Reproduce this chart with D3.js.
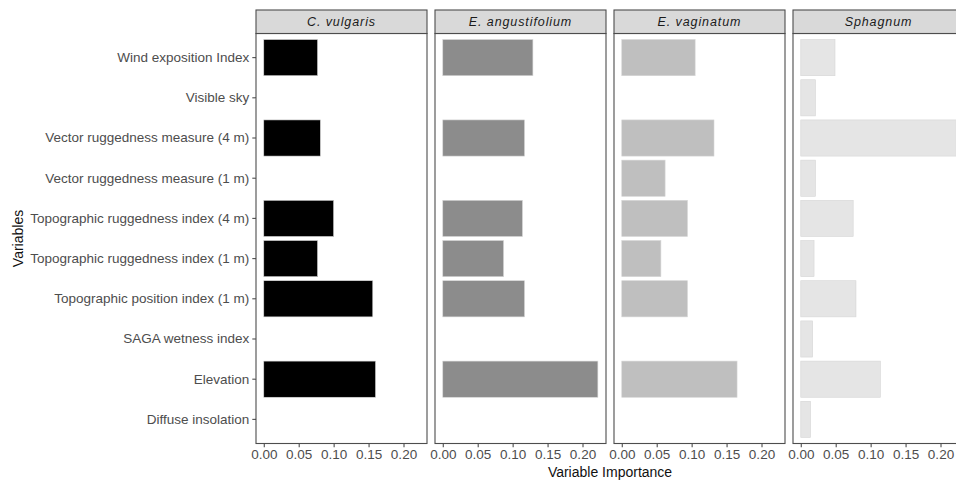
<!DOCTYPE html>
<html>
<head>
<meta charset="utf-8">
<script src="https://cdn.jsdelivr.net/npm/d3@7"></script>
<style>
  html, body { margin: 0; padding: 0; background: #fff; }
  svg { display: block; font-family: "Liberation Sans", Arial, sans-serif; }
</style>
</head>
<body>
<svg id="chart" width="956" height="481"></svg>
<script>
// Predictor variables, listed top to bottom
const variables = [
  "Wind exposition Index",
  "Visible sky",
  "Vector ruggedness measure (4 m)",
  "Vector ruggedness measure (1 m)",
  "Topographic ruggedness index (4 m)",
  "Topographic ruggedness index (1 m)",
  "Topographic position index (1 m)",
  "SAGA wetness index",
  "Elevation",
  "Diffuse insolation"
];

// Species (facets)
const species = ["C. vulgaris", "E. angustifolium", "E. vaginatum", "Sphagnum"];
const speciesFill = ["#000000", "#8c8c8c", "#bfbfbf", "#e5e5e5"];

// Variable importance per species, in the order of `variables` (null = not selected)
const cVulgaris       = [0.077, null, 0.081, null,  0.100, 0.077, 0.156, null,  0.160, null];
const eAngustifolium  = [0.129, null, 0.117, null,  0.114, 0.087, 0.117, null,  0.222, null];
const eVaginatum      = [0.105, null, 0.132, 0.062, 0.094, 0.056, 0.094, null,  0.165, null];
const sphagnum        = [0.049, 0.021, 0.2225, 0.021, 0.075, 0.019, 0.079, 0.017, 0.114, 0.014];

const seriesValues = [cVulgaris, eAngustifolium, eVaginatum, sphagnum];
const xTicks = [0, 0.05, 0.10, 0.15, 0.20];

const svg = d3.select("#chart");

const panelLeft = 256, panelStep = 179, panelW = 171;
const stripTop = 10, stripH = 23.5;
const panelTop = stripTop + stripH, panelBottom = 443.5;
const borderCol = "#4d4d4d", textCol = "#4d4d4d";
const labelSize = 13.5;

// Shared x scale (5% expansion around [0, max])
const maxVal = d3.max(seriesValues.flat().filter(v => v != null));
const x = d3.scaleLinear()
  .domain([-0.05 * maxVal, 1.05 * maxVal])
  .range([0, panelW]);

// Discrete y scale: 0.6-step margin to the first/last centre, bar width 0.9 step
const y = d3.scaleBand()
  .domain(variables)
  .range([panelTop, panelBottom])
  .paddingInner(0.1)
  .paddingOuter(0.15);

species.forEach((sp, i) => {
  const x0 = panelLeft + i * panelStep;
  const g = svg.append("g").attr("transform", `translate(${x0},0)`);

  // panel background
  g.append("rect")
    .attr("x", 0).attr("y", panelTop)
    .attr("width", panelW).attr("height", panelBottom - panelTop)
    .attr("fill", "#fff");

  // bars
  const rows = variables.map((v, j) => ({ v, val: seriesValues[i][j] }))
    .filter(d => d.val != null);
  g.selectAll("rect.bar").data(rows).enter().append("rect")
    .attr("class", "bar")
    .attr("x", x(0))
    .attr("y", d => y(d.v))
    .attr("width", d => x(d.val) - x(0))
    .attr("height", y.bandwidth())
    .attr("fill", speciesFill[i])
    .attr("stroke", "#d6d6d6")
    .attr("stroke-width", 0.6);

  // panel border
  g.append("rect")
    .attr("x", 0).attr("y", panelTop)
    .attr("width", panelW).attr("height", panelBottom - panelTop)
    .attr("fill", "none").attr("stroke", borderCol).attr("stroke-width", 1.1);

  // strip
  g.append("rect")
    .attr("x", 0).attr("y", stripTop)
    .attr("width", panelW).attr("height", stripH)
    .attr("fill", "#d9d9d9").attr("stroke", borderCol).attr("stroke-width", 1.1);
  g.append("text")
    .attr("x", panelW / 2).attr("y", stripTop + stripH / 2)
    .attr("dy", "0.35em")
    .attr("text-anchor", "middle")
    .attr("font-size", 12.5).attr("font-style", "italic")
    .attr("letter-spacing", "0.9px")
    .attr("fill", "#1a1a1a")
    .text(sp);

  // x axis
  const xAxis = d3.axisBottom(x).tickValues(xTicks)
    .tickFormat(d3.format(".2f")).tickSize(3.7).tickPadding(2.5);
  const ax = g.append("g").attr("transform", `translate(0,${panelBottom})`).call(xAxis);
  ax.select(".domain").remove();
  ax.selectAll(".tick line").attr("stroke", borderCol).attr("stroke-width", 1.1);
  ax.selectAll(".tick text")
    .attr("font-size", labelSize).attr("fill", textCol)
    .attr("font-family", "Liberation Sans, Arial, sans-serif");
});

// y axis on the first panel
const yAxis = d3.axisLeft(y).tickSize(3.7).tickPadding(3);
const ay = svg.append("g").attr("transform", `translate(${panelLeft},0)`).call(yAxis);
ay.select(".domain").remove();
ay.selectAll(".tick line").attr("stroke", borderCol).attr("stroke-width", 1.1);
ay.selectAll(".tick text")
  .attr("font-size", labelSize).attr("fill", textCol)
  .attr("font-family", "Liberation Sans, Arial, sans-serif");

// axis titles
const panelsRight = panelLeft + 3 * panelStep + panelW;
svg.append("text")
  .attr("x", (panelLeft + panelsRight) / 2).attr("y", 477)
  .attr("text-anchor", "middle")
  .attr("font-size", 14).attr("fill", "#111")
  .text("Variable Importance");

svg.append("text")
  .attr("transform", `translate(23,${(panelTop + panelBottom) / 2}) rotate(-90)`)
  .attr("text-anchor", "middle")
  .attr("font-size", 14).attr("fill", "#111")
  .text("Variables");
</script>
</body>
</html>
